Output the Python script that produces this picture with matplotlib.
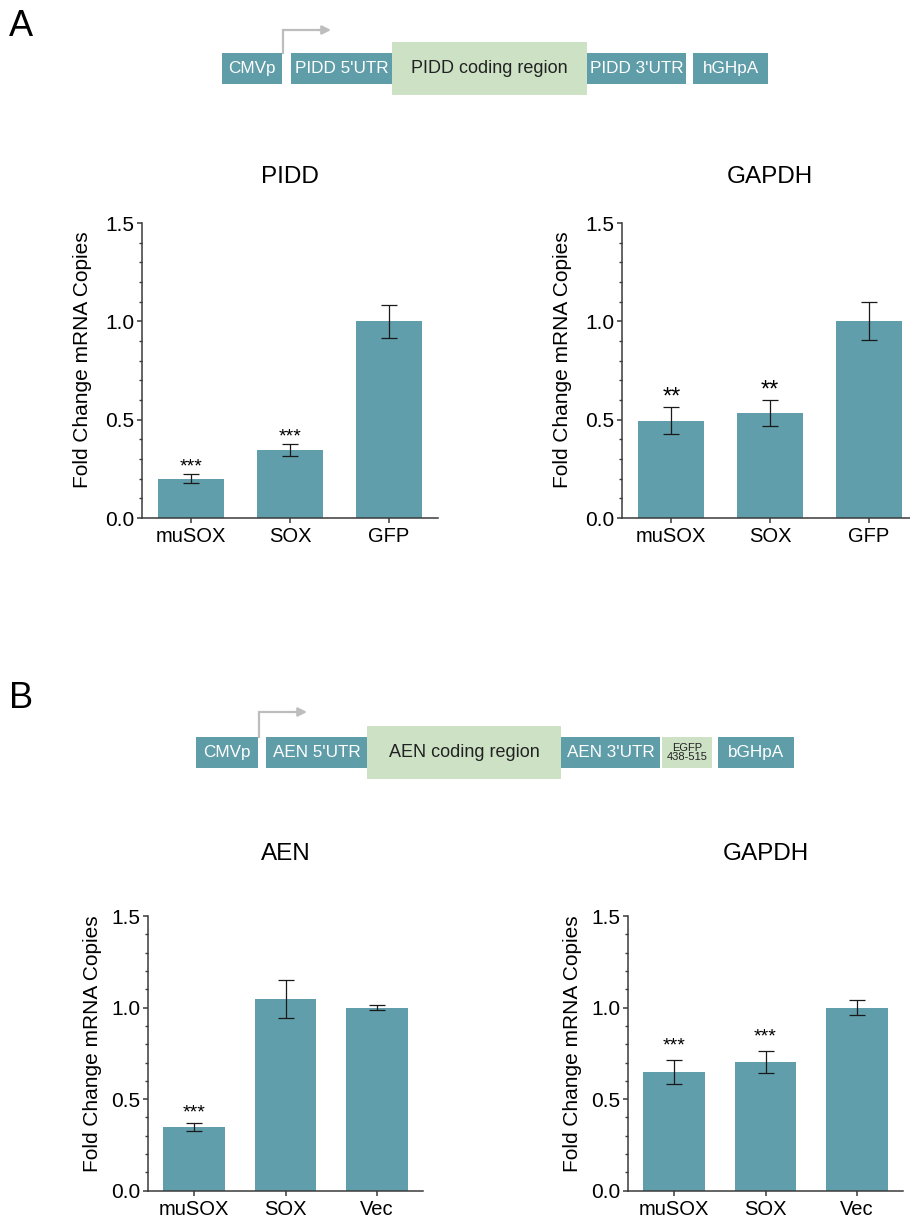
import matplotlib.pyplot as plt
from matplotlib.patches import Rectangle
import numpy as np

TEAL = '#609eab'
BOX_TEAL = '#5f9da9'
GREEN = '#cde2c5'
AXC = '#3a3a3a'

plt.rcParams['font.family'] = ['Liberation Sans', 'DejaVu Sans']

# bar data
pidd_labels = ['muSOX', 'SOX', 'GFP']
pidd_vals = [0.20, 0.345, 1.0]
pidd_err = [0.022, 0.031, 0.085]
pidd_stars = ['***', '***', '']

gapdh_a_vals = [0.495, 0.535, 1.0]
gapdh_a_err = [0.068, 0.065, 0.097]
gapdh_a_stars = ['**', '**', '']

aen_labels = ['muSOX', 'SOX', 'Vec']
aen_vals = [0.348, 1.047, 1.0]
aen_err = [0.023, 0.104, 0.015]
aen_stars = ['***', '', '']

gapdh_b_vals = [0.649, 0.703, 1.0]
gapdh_b_err = [0.065, 0.058, 0.039]
gapdh_b_stars = ['***', '***', '']

# construct diagrams
cons_a_names = ['CMVp', "PIDD 5'UTR", 'PIDD coding region', "PIDD 3'UTR", 'hGHpA']
cons_a_widths = [60, 101, 195, 99, 75]
cons_a_gaps = [0, 9, 0, 0, 7]
cons_a_kind = ['t', 't', 'g', 't', 't']

cons_b_names = ['CMVp', "AEN 5'UTR", 'AEN coding region', "AEN 3'UTR", 'EGFP\n438-515', 'bGHpA']
cons_b_widths = [62, 101, 194, 99, 50, 76]
cons_b_gaps = [0, 8, 0, 0, 2, 6]
cons_b_kind = ['t', 't', 'g', 't', 's', 't']

W, H = 910, 1220
fig = plt.figure(figsize=(W / 100, H / 100), dpi=100)

bg = fig.add_axes([0, 0, 1, 1], zorder=-1)
bg.set_xlim(0, W)
bg.set_ylim(H, 0)
bg.axis('off')


def construct(x0, yc, names, widths, gaps, kinds, arrow_top):
    x = x0
    for i, (n, w, g, k) in enumerate(zip(names, widths, gaps, kinds)):
        x += g
        if k == 'g':
            h, fc, tc, fs = 53, GREEN, '#222222', 13
        elif k == 's':
            h, fc, tc, fs = 31, GREEN, '#222222', 8
        else:
            h, fc, tc, fs = 31, BOX_TEAL, 'white', 12.3
        bg.add_patch(Rectangle((x, yc - h / 2), w, h, fc=fc, ec='none'))
        bg.text(x + w / 2, yc, n, ha='center', va='center', color=tc,
                fontsize=fs, linespacing=0.95)
        if i == 0:
            ax_x = x + w + 1
        x += w
    bot = yc - 15.5
    bg.plot([ax_x, ax_x, ax_x + 38], [bot, arrow_top, arrow_top],
            color='#bdbdbd', lw=1.6, solid_joinstyle='miter')
    bg.annotate('', xy=(ax_x + 48, arrow_top), xytext=(ax_x + 36, arrow_top),
                arrowprops=dict(arrowstyle='-|>', color='#bdbdbd', lw=1.6,
                                shrinkA=0, shrinkB=0, mutation_scale=13))


construct(222, 68.5, cons_a_names, cons_a_widths, cons_a_gaps, cons_a_kind, 30)
construct(196, 752.5, cons_b_names, cons_b_widths, cons_b_gaps, cons_b_kind, 712)

fig.text(21 / W, 1 - 26 / H, 'A', fontsize=26, ha='center', va='center')
fig.text(21 / W, 1 - 698 / H, 'B', fontsize=26, ha='center', va='center')


def bar_panel(rect, title, labels, vals, errs, stars, pad, star_off, star_fs):
    ax = fig.add_axes(rect)
    x = np.arange(len(labels))
    ax.bar(x, vals, width=0.67, color=TEAL, zorder=2)
    ax.errorbar(x, vals, yerr=errs, fmt='none', ecolor='#1a1a1a',
                elinewidth=0.9, capsize=6, capthick=0.9, zorder=3)
    for xi, v, e, s in zip(x, vals, errs, stars):
        if s:
            ax.annotate(s, (xi, v + e), xytext=(0, star_off),
                        textcoords='offset points', ha='center', va='bottom',
                        fontsize=star_fs)
    ax.set_xlim(-0.5, 2.5)
    ax.set_ylim(0, 1.5)
    ax.set_yticks([0, 0.5, 1.0, 1.5])
    ax.set_yticklabels(['0.0', '0.5', '1.0', '1.5'])
    ax.set_yticks(np.arange(0, 1.51, 0.1), minor=True)
    ax.set_xticks(x)
    ax.set_xticklabels(labels)
    for sp in ['top', 'right']:
        ax.spines[sp].set_visible(False)
    for sp in ['left', 'bottom']:
        ax.spines[sp].set_color(AXC)
        ax.spines[sp].set_linewidth(1.1)
    ax.tick_params(axis='both', which='major', length=3.5, width=1.1,
                   color=AXC, labelsize=15, pad=2)
    ax.tick_params(axis='y', which='minor', length=2, width=1.0, color=AXC)
    ax.tick_params(axis='x', length=3.5, pad=3, labelsize=14.5)
    ax.set_ylabel('Fold Change mRNA Copies', fontsize=15)
    ax.yaxis.set_label_coords(-0.168, 0.535)
    ax.set_title(title, fontsize=17.5, pad=pad)
    return ax


bar_panel([142 / W, 1 - 518 / H, 296 / W, 295 / H], 'PIDD',
          pidd_labels, pidd_vals, pidd_err, pidd_stars, 29, -1, 14)
bar_panel([622 / W, 1 - 518 / H, 296 / W, 295 / H], 'GAPDH',
          pidd_labels, gapdh_a_vals, gapdh_a_err, gapdh_a_stars, 29, -1, 17)
bar_panel([148 / W, 1 - 1190.7 / H, 275 / W, 274.7 / H], 'AEN',
          aen_labels, aen_vals, aen_err, aen_stars, 40, 1, 14)
bar_panel([628 / W, 1 - 1190.7 / H, 275 / W, 274.7 / H], 'GAPDH',
          aen_labels, gapdh_b_vals, gapdh_b_err, gapdh_b_stars, 40, 4, 14)

fig.savefig('out.png', dpi=100)
